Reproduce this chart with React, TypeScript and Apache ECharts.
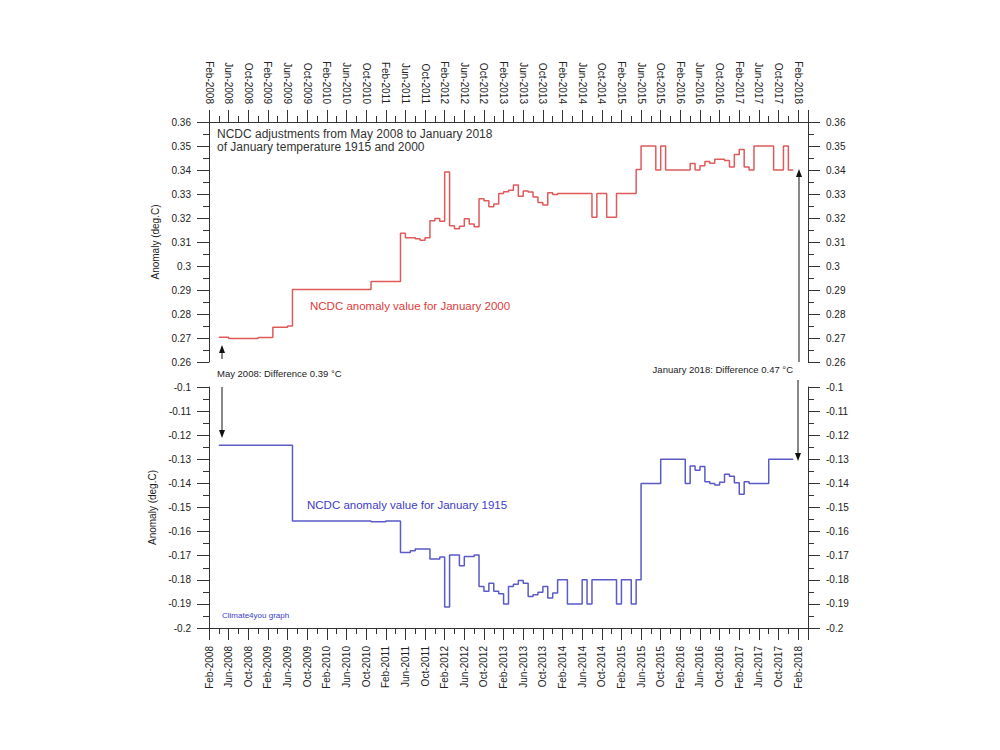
import React, { useEffect, useRef } from "react";
import * as echarts from "echarts";

// Month index 0 = Feb-2008; axis runs to month 122 (Apr-2018)
const monthTickLabels = [
  "Feb-2008", "Jun-2008", "Oct-2008", "Feb-2009", "Jun-2009", "Oct-2009",
  "Feb-2010", "Jun-2010", "Oct-2010", "Feb-2011", "Jun-2011", "Oct-2011",
  "Feb-2012", "Jun-2012", "Oct-2012", "Feb-2013", "Jun-2013", "Oct-2013",
  "Feb-2014", "Jun-2014", "Oct-2014", "Feb-2015", "Jun-2015", "Oct-2015",
  "Feb-2016", "Jun-2016", "Oct-2016", "Feb-2017", "Jun-2017", "Oct-2017",
  "Feb-2018",
];

// NCDC anomaly value for January 2000 (change points, month index)
const redMonths = [2, 4, 10, 13, 16, 17, 33, 39, 40, 42, 43, 44, 45, 46, 47, 48, 49, 50, 51, 52, 53, 54, 55, 56, 57, 58, 59, 60, 61, 62, 63, 64, 65, 66, 67, 68, 69, 70, 71, 78, 79, 81, 83, 87, 88, 91, 92, 93, 98, 99, 100, 101, 102, 103, 105, 106, 107, 108, 109, 110, 111, 115, 117, 118, 119];
const redValues = [0.2703, 0.2698, 0.2702, 0.2745, 0.275, 0.2902, 0.2935, 0.3136, 0.3118, 0.3114, 0.3107, 0.3118, 0.3189, 0.3198, 0.3186, 0.3392, 0.3168, 0.3155, 0.3166, 0.3197, 0.3175, 0.3164, 0.328, 0.3272, 0.3247, 0.3258, 0.3302, 0.3309, 0.3316, 0.3337, 0.3291, 0.3313, 0.3308, 0.3288, 0.3265, 0.3254, 0.3305, 0.3298, 0.3302, 0.3203, 0.3302, 0.3203, 0.3302, 0.3402, 0.35, 0.34, 0.35, 0.34, 0.3427, 0.34, 0.3418, 0.3435, 0.3428, 0.3445, 0.344, 0.3412, 0.3465, 0.3485, 0.3412, 0.34, 0.35, 0.34, 0.35, 0.34, 0.34];

// NCDC anomaly value for January 1915 (change points, month index)
const blueMonths = [2, 17, 33, 36, 39, 41, 42, 45, 47, 48, 49, 51, 52, 54, 55, 56, 57, 58, 59, 60, 61, 62, 63, 64, 65, 66, 67, 68, 69, 70, 71, 73, 76, 77, 78, 83, 84, 86, 87, 88, 92, 97, 98, 99, 100, 101, 102, 103, 104, 105, 106, 107, 108, 109, 110, 114, 119];
const blueValues = [-0.1242, -0.1556, -0.1559, -0.1556, -0.1687, -0.1679, -0.1672, -0.1714, -0.1705, -0.1913, -0.1697, -0.1742, -0.1703, -0.1697, -0.1828, -0.1848, -0.1814, -0.1848, -0.1858, -0.19, -0.1828, -0.1818, -0.1803, -0.1814, -0.1869, -0.1862, -0.1852, -0.1828, -0.1876, -0.1855, -0.18, -0.19, -0.18, -0.19, -0.18, -0.19, -0.18, -0.19, -0.18, -0.14, -0.13, -0.14, -0.1328, -0.1345, -0.133, -0.1393, -0.14, -0.1407, -0.1395, -0.1362, -0.137, -0.1397, -0.1445, -0.1393, -0.14, -0.13, -0.13];

const FONT = "Liberation Sans, Arial, sans-serif";
const AX = "#333";

export default function App() {
  const ref = useRef<HTMLDivElement>(null);
  useEffect(() => {
    if (!ref.current) return;
    const chart = echarts.init(ref.current, null, { renderer: "svg" });

    const xLabel = (v: number) => (v % 4 === 0 && monthTickLabels[v / 4]) ? monthTickLabels[v / 4] : "";
    const yLabel = (v: number) => String(parseFloat(v.toFixed(3)));

    const xAxisBase = (gridIndex: number, position: string) => ({
      type: "value",
      gridIndex,
      position,
      min: 0,
      max: 122,
      interval: 4,
      axisLine: { show: true, onZero: false, lineStyle: { color: AX, width: 1 } },
      axisTick: { show: true, length: 12, lineStyle: { color: AX, width: 1 } },
      minorTick: { show: true, splitNumber: 2, length: 6, lineStyle: { color: AX, width: 1 } },
      axisLabel: { rotate: 90, margin: 18, fontSize: 10, color: "#222", fontFamily: FONT, formatter: xLabel },
      splitLine: { show: false },
      minorSplitLine: { show: false },
    });

    const yAxisBase = (gridIndex: number, position: string, min: number, max: number, withName: boolean) => ({
      type: "value",
      gridIndex,
      position,
      min,
      max,
      interval: 0.01,
      axisLine: { show: true, onZero: false, lineStyle: { color: AX, width: 1 } },
      axisTick: { show: true, length: 12, lineStyle: { color: AX, width: 1 } },
      minorTick: { show: true, splitNumber: 2, length: 6, lineStyle: { color: AX, width: 1 } },
      axisLabel: { margin: 18, fontSize: 10, color: "#222", fontFamily: FONT, formatter: yLabel },
      splitLine: { show: false },
      name: withName ? "Anomaly (deg.C)" : "",
      nameLocation: "middle",
      nameGap: 44,
      nameRotate: 90,
      nameTextStyle: { fontSize: 10, color: "#222", fontFamily: FONT },
    });

    const redData = redMonths.map((m, i) => [m, redValues[i]]);
    const blueData = blueMonths.map((m, i) => [m, blueValues[i]]);

    const arrowHead = (x: number, y: number, up: boolean) => ({
      type: "polygon",
      shape: {
        points: up
          ? [[x, y], [x - 3, y + 8], [x + 3, y + 8]]
          : [[x, y], [x - 3, y - 8], [x + 3, y - 8]],
      },
      style: { fill: "#111" },
      silent: true,
    });
    const vline = (x: number, y1: number, y2: number) => ({
      type: "line",
      shape: { x1: x, y1, x2: x, y2 },
      style: { stroke: "#111", lineWidth: 1 },
      silent: true,
    });
    const txt = (x: number, y: number, text: string, size: number, color: string, align = "left") => ({
      type: "text",
      x,
      y,
      style: { text, fontSize: size, fill: color, fontFamily: FONT, align, verticalAlign: "middle" },
      silent: true,
    });

    chart.setOption({
      animation: false,
      backgroundColor: "#fff",
      grid: [
        { left: 209, right: 192, top: 122, height: 240 },
        { left: 209, right: 192, top: 387, height: 241 },
      ],
      xAxis: [xAxisBase(0, "top"), xAxisBase(1, "bottom")],
      yAxis: [
        yAxisBase(0, "left", 0.26, 0.36, true),
        yAxisBase(0, "right", 0.26, 0.36, false),
        yAxisBase(1, "left", -0.2, -0.1, true),
        yAxisBase(1, "right", -0.2, -0.1, false),
      ],
      series: [
        {
          type: "line",
          name: "January 2000",
          xAxisIndex: 0,
          yAxisIndex: 0,
          data: redData,
          step: "end",
          showSymbol: false,
          lineStyle: { color: "#e05a5a", width: 1.5 },
          itemStyle: { color: "#e05a5a" },
        },
        {
          type: "line",
          name: "January 1915",
          xAxisIndex: 1,
          yAxisIndex: 2,
          data: blueData,
          step: "end",
          showSymbol: false,
          lineStyle: { color: "#5a5ac8", width: 1.5 },
          itemStyle: { color: "#5a5ac8" },
        },
      ],
      graphic: [
        txt(217, 134, "NCDC adjustments from May 2008 to January 2018", 12, "#333"),
        txt(217, 147, "of January temperature 1915 and 2000", 12, "#333"),
        txt(310, 306, "NCDC anomaly value for January 2000", 11.5, "#e03a3a"),
        txt(307, 505, "NCDC anomaly value for January 1915", 11.5, "#3c3cc8"),
        txt(217, 373, "May 2008: Difference 0.39 °C", 9.5, "#222"),
        txt(793, 369, "January 2018: Difference 0.47 °C", 9.5, "#222", "right"),
        txt(222, 615, "Climate4you graph", 8, "#3c3cc8"),
        vline(222, 347, 359),
        arrowHead(222, 345, true),
        vline(222, 387, 435),
        arrowHead(222, 438, false),
        vline(799, 172, 362),
        arrowHead(799, 169, true),
        vline(798, 380, 458),
        arrowHead(798, 461, false),
      ],
    });
    return () => chart.dispose();
  }, []);
  return (
    <div
      ref={ref}
      style={{ position: "absolute", left: 0, top: 0, width: 1000, height: 750, background: "#fff" }}
    />
  );
}
